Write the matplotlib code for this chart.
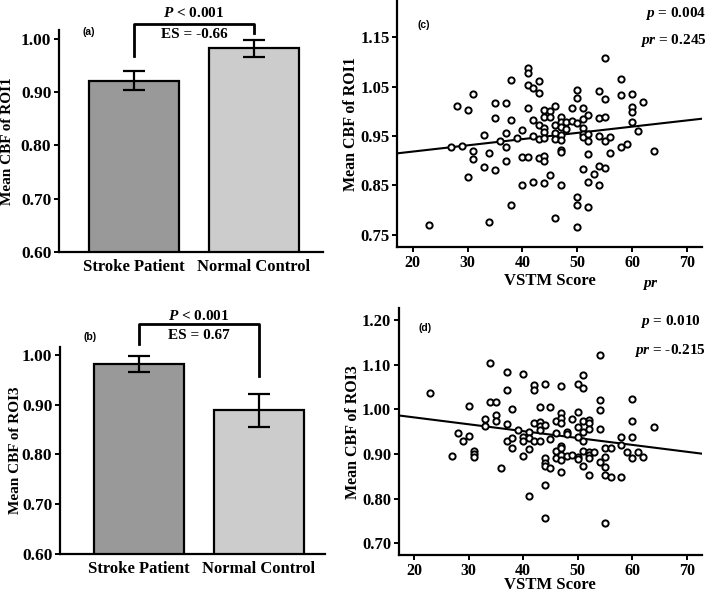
import numpy as np
import matplotlib
matplotlib.use('Agg')
import matplotlib.pyplot as plt

plt.rcParams['font.family'] = 'Liberation Serif'
plt.rcParams['font.weight'] = 'bold'
plt.rcParams['axes.labelweight'] = 'bold'
plt.rcParams['mathtext.fontset'] = 'custom'
plt.rcParams['mathtext.it'] = 'Liberation Serif:italic:bold'
plt.rcParams['mathtext.rm'] = 'Liberation Serif:bold'
plt.rcParams['mathtext.bf'] = 'Liberation Serif:bold'

#Bar data
groups = ['Stroke Patient', 'Normal Control']
roi1_mean = [0.921, 0.982]
roi1_err = [0.018, 0.016]
roi3_mean = [0.981, 0.889]
roi3_err = [0.016, 0.033]
bar_colors = ['#999999', '#cccccc']

#Scatter data (c): VSTM score vs ROI1
vstm_c = [23, 27, 28, 29, 30, 30, 31, 31, 31, 33, 33, 34, 34, 35, 35, 35, 36, 37, 37, 37, 37,
          38, 38, 38, 39, 40, 40, 40, 41, 41, 41, 41, 41, 42, 42, 42, 42, 43, 43, 43, 43, 43,
          44, 44, 44, 44, 44, 44, 44, 44, 45, 45, 45, 46, 46, 46, 46, 46, 47, 47, 47, 47, 47,
          47, 47, 47, 48, 48, 49, 49, 50, 50, 50, 50, 50, 50, 51, 51, 51, 51, 51, 51, 52, 52,
          52, 52, 52, 52, 53, 54, 54, 54, 54, 54, 55, 55, 55, 55, 55, 56, 56, 58, 58, 58, 59,
          60, 60, 60, 60, 61, 62, 64]
roi1_c = [0.770, 0.928, 1.011, 0.929, 1.003, 0.867, 1.034, 0.920, 0.904, 0.952, 0.888, 0.777,
          0.915, 1.016, 0.986, 0.881, 0.940, 1.017, 0.957, 0.928, 0.899, 1.063, 0.982, 0.810,
          0.946, 0.963, 0.907, 0.851, 1.087, 1.077, 1.054, 1.007, 0.907, 1.048, 0.983, 0.950,
          0.858, 1.061, 1.037, 0.972, 0.944, 0.906, 1.003, 0.989, 0.967, 0.958, 0.945, 0.910,
          0.900, 0.855, 1.000, 0.989, 0.872, 1.010, 0.973, 0.956, 0.943, 0.784, 0.989, 0.979,
          0.969, 0.952, 0.942, 0.921, 0.918, 0.850, 0.979, 0.965, 1.007, 0.981, 1.044, 1.027,
          0.977, 0.827, 0.810, 0.766, 1.007, 0.985, 0.966, 0.955, 0.948, 0.884, 0.993, 0.955,
          0.940, 0.913, 0.856, 0.807, 0.873, 1.042, 0.986, 0.950, 0.890, 0.851, 1.108, 1.024,
          0.989, 0.940, 0.886, 0.947, 0.916, 1.065, 1.032, 0.928, 0.933, 1.034, 1.009, 0.998,
          0.978, 0.960, 1.018, 0.920]
fit_c = [0.8933, 0.00126]  #intercept, slope

#Scatter data (d): VSTM score vs ROI3
vstm_d = [23, 27, 28, 29, 30, 30, 31, 31, 31, 33, 33, 34, 34, 35, 35, 35, 36, 37, 37, 37, 37,
          38, 38, 38, 39, 40, 40, 40, 40, 41, 41, 41, 41, 42, 42, 42, 42, 43, 43, 43, 43, 43,
          44, 44, 44, 44, 44, 44, 44, 45, 45, 45, 46, 46, 46, 46, 47, 47, 47, 47, 47, 47, 47,
          47, 47, 48, 48, 48, 49, 49, 50, 50, 50, 50, 50, 50, 51, 51, 51, 51, 51, 51, 51, 52,
          52, 52, 52, 52, 52, 52, 53, 54, 54, 54, 54, 54, 55, 55, 55, 55, 55, 56, 56, 58, 58,
          58, 59, 60, 60, 60, 60, 61, 62, 64]
roi3_d = [1.037, 0.896, 0.946, 0.930, 1.008, 0.940, 0.907, 0.900, 0.893, 0.978, 0.963, 1.104,
          1.017, 1.017, 0.987, 0.974, 0.869, 1.084, 1.043, 0.967, 0.929, 1.000, 0.935, 0.914,
          0.954, 1.080, 0.939, 0.930, 0.896, 0.950, 0.935, 0.911, 0.805, 1.055, 1.043, 0.969,
          0.930, 1.005, 0.971, 0.962, 0.954, 0.930, 1.057, 0.965, 0.890, 0.879, 0.874, 0.830,
          0.756, 1.005, 0.933, 0.869, 0.974, 0.946, 0.907, 0.892, 1.052, 0.991, 0.981, 0.969,
          0.919, 0.913, 0.898, 0.887, 0.860, 0.949, 0.944, 0.896, 0.978, 0.898, 1.057, 0.993,
          0.961, 0.939, 0.894, 0.888, 1.077, 1.047, 0.974, 0.950, 0.930, 0.907, 0.873, 0.976,
          0.969, 0.957, 0.904, 0.898, 0.892, 0.853, 0.904, 1.122, 1.020, 0.999, 0.955, 0.883,
          0.913, 0.894, 0.872, 0.854, 0.746, 0.913, 0.849, 0.937, 0.920, 0.849, 0.904, 1.023,
          0.974, 0.937, 0.890, 0.904, 0.894, 0.961]
fit_d = [1.0128, -0.00154]


def style_axes(ax, lw=1.6):
    for s in ['top', 'right']:
        ax.spines[s].set_visible(False)
    for s in ['left', 'bottom']:
        ax.spines[s].set_linewidth(lw)
    ax.tick_params(width=1.4, length=3.5, direction='out')


def bar_panel(ax, means, errs, xlim, ylabel, ylab_x, tag, tag_y, bracket, texts):
    x = np.arange(len(groups))
    ax.bar(x, means, width=0.75, color=bar_colors, edgecolor='black', linewidth=1.6, zorder=2)
    ax.errorbar(x, means, yerr=errs, fmt='none', ecolor='black', elinewidth=1.6,
                capsize=8, capthick=1.6, zorder=3)
    ax.set_xlim(*xlim)
    ax.set_ylim(0.60, 1.016)
    ax.set_yticks([0.60, 0.70, 0.80, 0.90, 1.00])
    ax.set_yticklabels(['0.60', '0.70', '0.80', '0.90', '1.00'], fontsize=12.5)
    ax.set_xticks(x)
    ax.set_xticklabels(groups, fontsize=12)
    style_axes(ax)
    ax.tick_params(axis='x', length=0, pad=5)
    ax.tick_params(axis='y', pad=2)
    ax.set_ylabel(ylabel, fontsize=11)
    ax.yaxis.set_label_coords(ylab_x, 0.5)
    #significance bracket
    top, left_end, right_end = bracket
    ax.plot([0, 0, 1, 1], [left_end, top, top, right_end], color='black', lw=2,
            clip_on=False, zorder=4)
    ax.text(0.5, top + texts[0], r'$P$ < 0.001', ha='center', va='center', fontsize=11,
            clip_on=False)
    ax.text(0.5, top + texts[1], texts[2], ha='center', va='center', fontsize=11,
            clip_on=False)
    ax.text(0.09, tag_y, tag, transform=ax.transAxes,
            family='Liberation Sans', fontsize=7.5, ha='left', va='center')


def scatter_panel(ax, xs, ys, fit, ylim, yticks, ylabel, ylab_x, xlab_y, tag, tag_y, ptxt, prtxt):
    ax.plot(xs, ys, 'o', mfc='white', mec='black', ms=4.5, mew=1.4, zorder=3)
    xl = np.array([17.2, 72.7])
    ax.plot(xl, fit[0] + fit[1] * xl, color='black', lw=1.5, zorder=2)
    ax.set_xlim(17.2, 72.7)
    ax.set_ylim(*ylim)
    ax.set_xticks([20, 30, 40, 50, 60, 70])
    ax.set_xticklabels(['20', '30', '40', '50', '60', '70'], fontsize=11.5)
    ax.set_yticks(yticks)
    ax.set_yticklabels(['%.2f' % v for v in yticks], fontsize=12)
    ax.set_xlabel('VSTM Score', fontsize=12)
    ax.set_ylabel(ylabel, fontsize=11.5)
    ax.yaxis.set_label_coords(ylab_x, 0.5)
    ax.xaxis.set_label_coords(0.5, xlab_y)
    style_axes(ax)
    ax.tick_params(axis='x', pad=2)
    ax.tick_params(axis='y', pad=2)
    ax.text(0.065, tag_y, tag, transform=ax.transAxes, family='Liberation Sans',
            fontsize=7.5, ha='left', va='center')
    ax.text(ptxt[0], ptxt[1], ptxt[2], transform=ax.transAxes, ha='right', va='center',
            fontsize=11)
    ax.text(prtxt[0], prtxt[1], prtxt[2], transform=ax.transAxes, ha='right', va='center',
            fontsize=11)


fig = plt.figure(figsize=(7.09, 5.95), dpi=100)

ax_a = fig.add_axes([0.0832, 0.5765, 0.3724, 0.3731])
bar_panel(ax_a, roi1_mean, roi1_err, (-0.625, 1.575), 'Mean CBF of ROI1', -0.172,
          '(a)', 0.99, (1.028, 0.967, 1.011), (0.019, -0.021, 'ES = -0.66'))

ax_b = fig.add_axes([0.0846, 0.0684, 0.3738, 0.3489])
bar_panel(ax_b, roi3_mean, roi3_err, (-0.66, 1.55), 'Mean CBF of ROI3', -0.142,
          '(b)', 1.045, (1.0615, 1.021, 0.958), (0.016, -0.023, 'ES = 0.67'))

ax_c = fig.add_axes([0.5604, 0.5844, 0.4293, 0.4156])
scatter_panel(ax_c, vstm_c, roi1_c, fit_c, (0.725, 1.225), [0.75, 0.85, 0.95, 1.05, 1.15],
              'Mean CBF of ROI1', -0.125, -0.105, '(c)', 0.9,
              (1.015, 0.947, r'$p$ = 0.004'), (1.015, 0.838, r'$pr$ = 0.245'))
ax_c.text(0.83, -0.154, r'$pr$', transform=ax_c.transAxes, ha='center', va='center',
          fontsize=11)

ax_d = fig.add_axes([0.5623, 0.0672, 0.4274, 0.4146])
scatter_panel(ax_d, vstm_d, roi3_d, fit_d, (0.674, 1.226), [0.70, 0.80, 0.90, 1.00, 1.10, 1.20],
              'Mean CBF of ROI3', -0.123, -0.09, '(d)', 0.92,
              (0.997, 0.945, r'$p$ = 0.010'), (1.012, 0.83, r'$pr$ = -0.215'))

fig.savefig('out.png', dpi=100)
